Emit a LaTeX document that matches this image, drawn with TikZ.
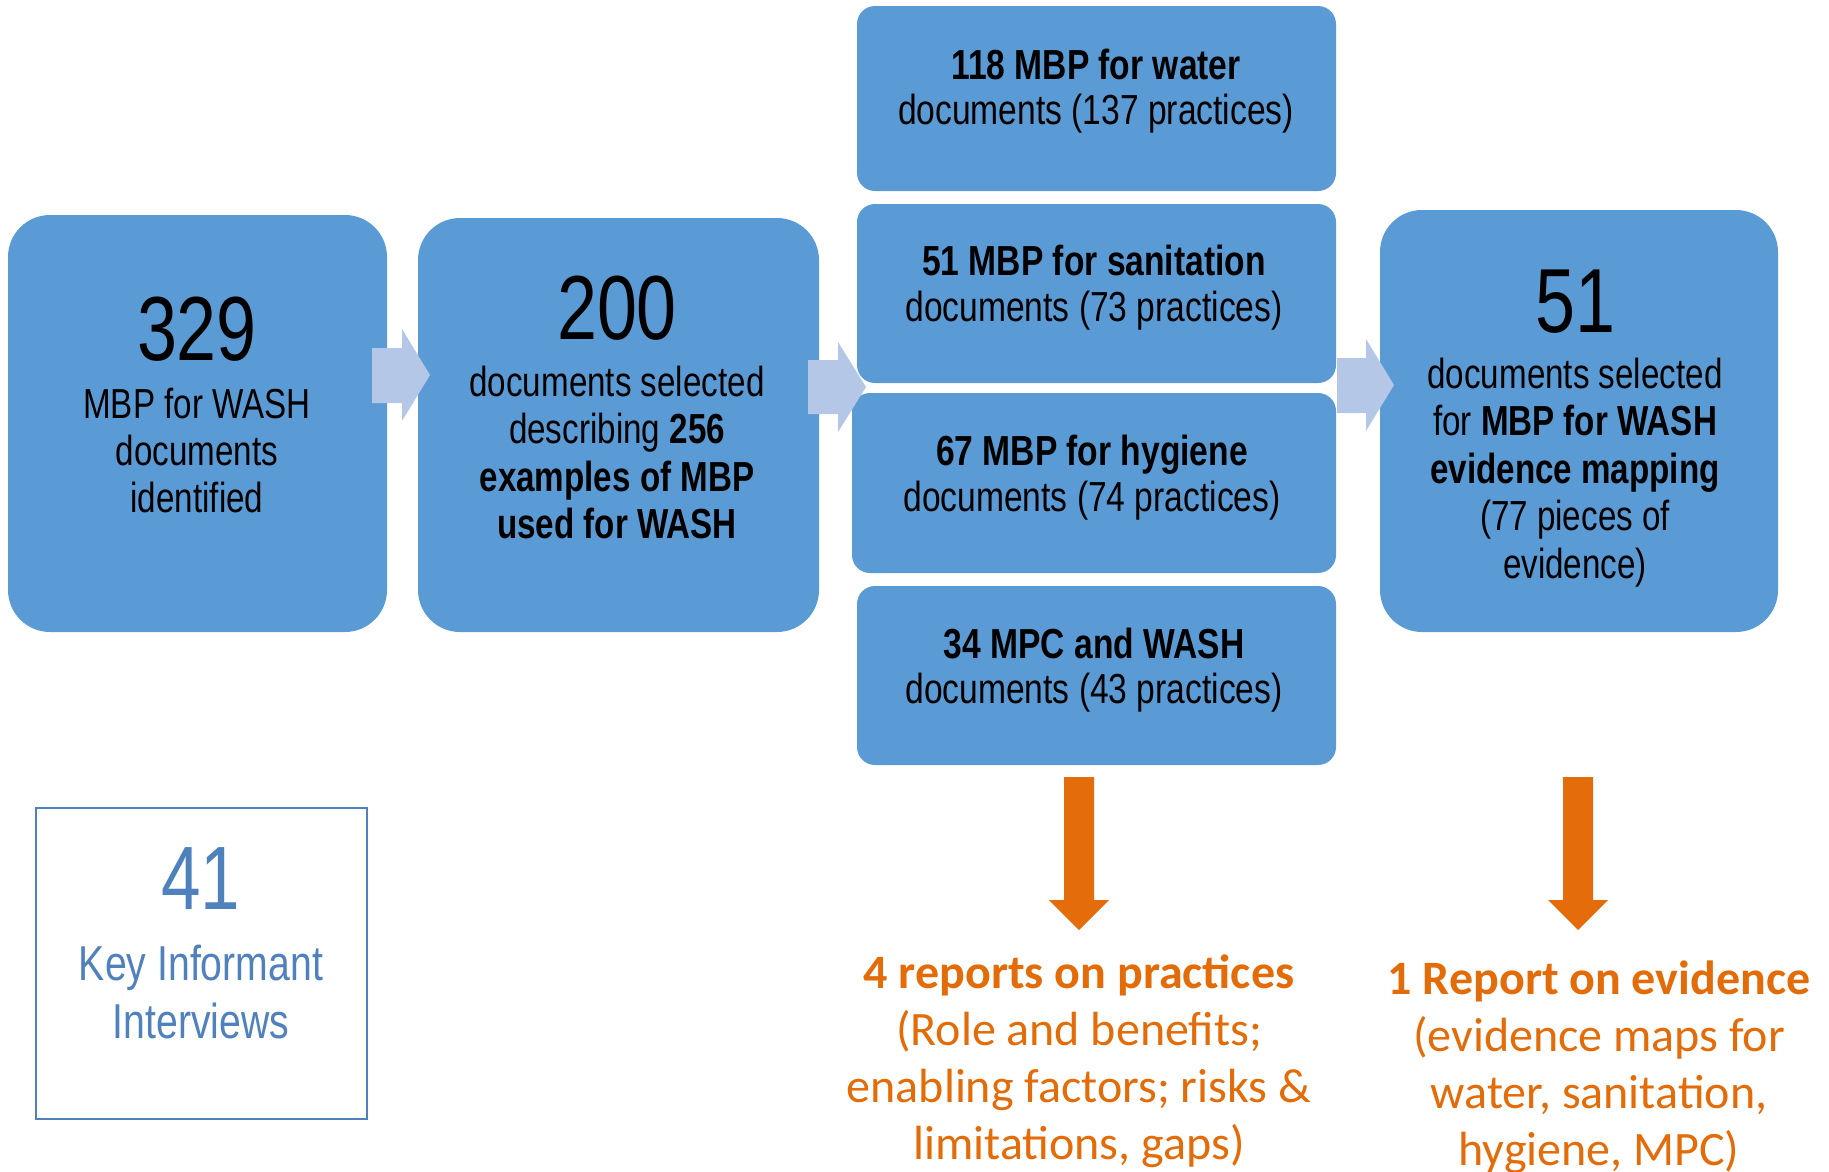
\documentclass[tikz,border=0pt]{standalone}
\usepackage{fontspec}
\setmainfont{Liberation Sans}
\newfontfamily\narrowfont[FakeStretch=0.79]{Liberation Sans}
\newfontfamily\kfont[FakeStretch=0.80]{Liberation Sans}
\newfontfamily\midfont[FakeStretch=0.80]{Liberation Sans}
\newfontfamily\calfont{Carlito}
\definecolor{boxblue}{HTML}{5B9BD5}
\definecolor{lightarrow}{HTML}{B4C7E7}
\definecolor{orangearrow}{HTML}{E46C0A}
\definecolor{orangetext}{HTML}{E36C09}
\definecolor{kblue}{HTML}{4F81BD}
\begin{document}
\begin{tikzpicture}[x=1pt,y=-1pt,
  bigbox/.style={fill=boxblue, draw=none, rounded corners=42pt, inner sep=0pt},
  midbox/.style={fill=boxblue, draw=none, rounded corners=18pt, inner sep=0pt, minimum width=479pt},
  kbox/.style={draw=kblue, line width=2pt, fill=white, inner sep=0pt},
  bignum/.style={anchor=base, inner sep=0pt, font=\narrowfont\fontsize{91}{100}\selectfont},
  ln/.style={anchor=base, inner sep=0pt, font=\narrowfont\fontsize{42}{47}\selectfont},
  mln/.style={anchor=base, inner sep=0pt, font=\midfont\fontsize{42}{47}\selectfont},
  kln/.style={anchor=base, inner sep=0pt, text=kblue, font=\kfont\fontsize{49}{57}\selectfont},
  oln/.style={anchor=base, inner sep=0pt, text=orangetext, font=\calfont\fontsize{48}{57}\selectfont},
  flowarrow/.style={fill=lightarrow, draw=none},
  outarrow/.style={fill=orangearrow, draw=none}]
\useasboundingbox (0,0) rectangle (1829,1171);

% main boxes
\node[bigbox, minimum width=379pt, minimum height=417pt] (b1) at (197.5,423.5) {};
\node[bigbox, minimum width=401pt, minimum height=414pt] (b2) at (618.5,425) {};
\node[midbox, minimum height=185pt] (mw) at (1096.5,98.5) {};
\node[midbox, minimum height=179pt] (ms) at (1096.5,293.5) {};
\node[midbox, minimum width=484pt, minimum height=180pt] (mh) at (1094,483) {};
\node[midbox, minimum height=179pt] (mm) at (1096.5,675.5) {};
\node[bigbox, minimum width=398pt, minimum height=422pt] (b3) at (1579,421) {};
\node[kbox, minimum width=331pt, minimum height=311pt] (kii) at (201.5,963.5) {};

% box 1 text
\node[bignum] (t1a) at (197,360) {329};
\node[ln] (t1b) at (197,418) {MBP for WASH};
\node[ln] (t1c) at (197,465) {documents};
\node[ln] (t1d) at (197,512) {identified};

% box 2 text
\node[bignum] (t2a) at (617,339) {200};
\node[ln] (t2b) at (617,396) {documents selected};
\node[ln] (t2c) at (617,443.5) {describing \textbf{256}};
\node[ln] (t2d) at (617,491) {\textbf{examples of MBP}};
\node[ln] (t2e) at (617,538.5) {\textbf{used for WASH}};

% middle boxes text
\node[mln] (tw1) at (1096,79) {\textbf{118 MBP for water}};
\node[mln] (tw2) at (1096,124) {documents (137 practices)};
\node[mln] (ts1) at (1094,275) {\textbf{51 MBP for sanitation}};
\node[mln] (ts2) at (1094,321) {documents (73 practices)};
\node[mln] (th1) at (1092,465) {\textbf{67 MBP for hygiene}};
\node[mln] (th2) at (1092,511) {documents (74 practices)};
\node[mln] (tm1) at (1094,658) {\textbf{34 MPC and WASH}};
\node[mln] (tm2) at (1094,703) {documents (43 practices)};

% box 3 text
\node[bignum] (t3a) at (1575,332) {51};
\node[ln] (t3b) at (1575,388) {documents selected};
\node[ln] (t3c) at (1575,435.5) {for \textbf{MBP for WASH}};
\node[ln] (t3d) at (1575,483) {\textbf{evidence mapping}};
\node[ln] (t3e) at (1575,530.5) {(77 pieces of};
\node[ln] (t3f) at (1575,578) {evidence)};

% KII text
\node[bignum, text=kblue, font=\narrowfont\fontsize{90}{100}\selectfont] (tka) at (201,909) {41};
\node[kln] (tkb) at (201,980) {Key Informant};
\node[kln] (tkc) at (201,1038) {Interviews};

% flow arrows
\fill[flowarrow] (372,348) -- (402,348) -- (402,329) -- (430,375) -- (402,421) -- (402,403) -- (372,403) -- cycle;
\fill[flowarrow] (808,360) -- (838,360) -- (838,342) -- (866,387) -- (838,432) -- (838,414) -- (808,414) -- cycle;
\fill[flowarrow] (1337,358) -- (1366,358) -- (1366,339) -- (1394,385) -- (1366,431) -- (1366,413) -- (1337,413) -- cycle;

% output arrows
\fill[outarrow] (1064,777) -- (1094,777) -- (1094,900) -- (1109,900) -- (1079,930) -- (1049,900) -- (1064,900) -- cycle;
\fill[outarrow] (1563,777) -- (1593,777) -- (1593,900) -- (1608,900) -- (1578,930) -- (1548,900) -- (1563,900) -- cycle;

% output texts
\node[oln] (o1a) at (1079,988) {\textbf{4 reports on practices}};
\node[oln] (o1b) at (1079,1045) {(Role and benefits;};
\node[oln] (o1c) at (1079,1102) {enabling factors; risks \&};
\node[oln] (o1d) at (1079,1159) {limitations, gaps)};
\node[oln] (o2a) at (1599,994) {\textbf{1 Report on evidence}};
\node[oln] (o2b) at (1599,1051) {(evidence maps for};
\node[oln] (o2c) at (1599,1108) {water, sanitation,};
\node[oln] (o2d) at (1599,1165) {hygiene, MPC)};
\end{tikzpicture}
\end{document}
